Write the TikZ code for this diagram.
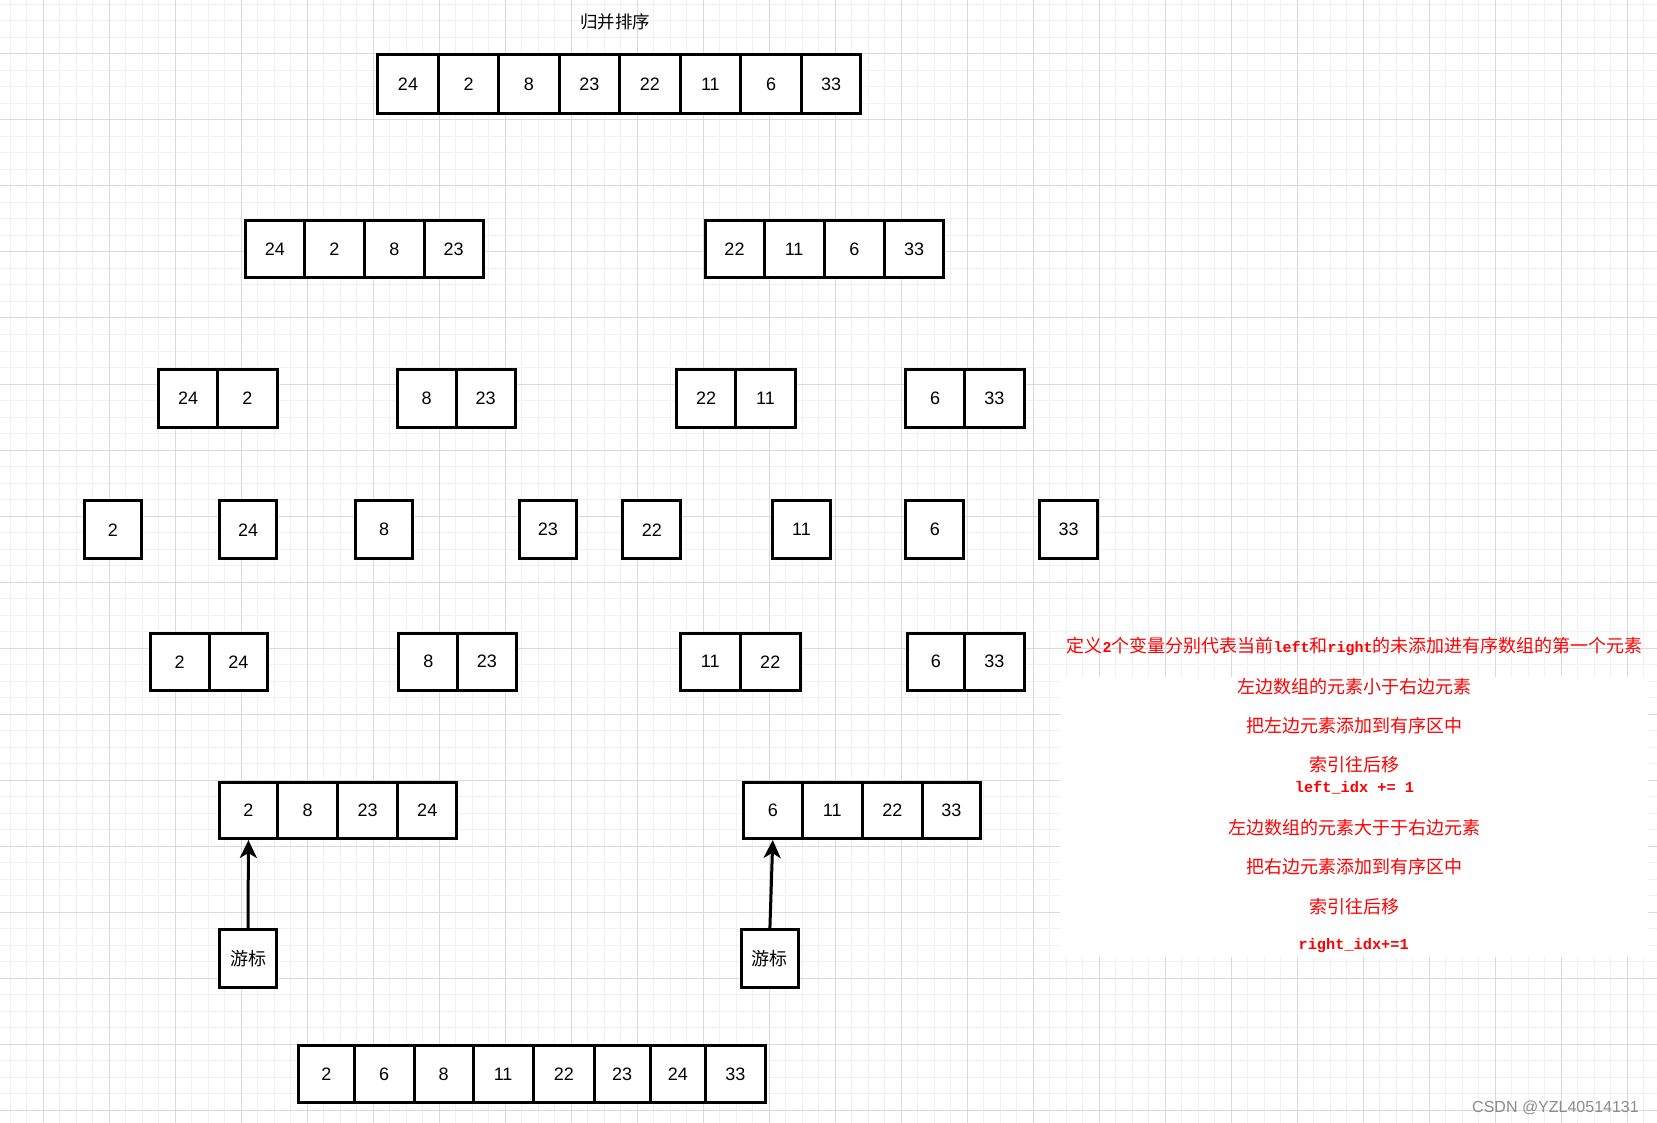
\documentclass[tikz,border=0pt]{standalone}
\usepackage{fontspec}
\setmainfont{Liberation Sans}
\newfontfamily\cjk{Noto Sans CJK SC}
\newfontfamily\monof{Liberation Mono}
\usetikzlibrary{arrows.meta}
\definecolor{majorgrid}{RGB}{218,218,218}
\definecolor{minorgrid}{RGB}{241,241,241}
\definecolor{wmgray}{RGB}{140,140,140}
\tikzset{
  cell/.style={draw=black, line width=3pt, fill=white, inner sep=0pt, font=\fontsize{18}{20}\selectfont},
  mgrid/.style={draw=majorgrid, line width=1pt},
  ngrid/.style={draw=minorgrid, line width=1pt},
  note/.style={text=red, inner sep=0pt, font=\cjk\fontsize{18}{20}\selectfont},
  notecode/.style={text=red, inner sep=0pt, font=\monof\bfseries\fontsize{15.3}{17}\selectfont},
  ptr/.style={line width=3pt, -{Stealth[length=18pt,width=17pt,inset=5pt]}},
}
\newcommand\cellbox[6]{\node[cell, minimum width={#3-#2}, minimum height={#5-#4}] (#1) at ({(#2+#3)/2},{(#4+#5)/2}) {#6};}
\newcommand\lat[1]{{\monof\bfseries\fontsize{15}{17}\selectfont #1}}
\begin{document}
\begin{tikzpicture}[x=1pt,y=-1pt]
\useasboundingbox (0,0) rectangle (1657,1123);
\fill[white] (0,0) rectangle (1657,1123);
% ---- grid: minor lines ----
\foreach \i in {-4,...,65} \draw[ngrid] (0,{54+16.5*\i}) -- (1657,{54+16.5*\i});
\foreach \i in {-3,...,98} \draw[ngrid] ({43+16.5*\i},0) -- ({43+16.5*\i},1123);
% ---- grid: major lines ----
\foreach \i in {-1,...,16} \draw[mgrid] (0,{54+66*\i}) -- (1657,{54+66*\i});
\foreach \i in {-1,...,24} \draw[mgrid] ({43+66*\i},0) -- ({43+66*\i},1123);
% white patch behind the notes
\fill[white] (1060,677) rectangle (1648,957);

% ---- title ----
\node[inner sep=0pt, font=\cjk\fontsize{17.5}{20}\selectfont] (title) at (615,21.7) {归并排序};

% ---- row 1 ----
\cellbox{t1}{377.3}{438.7}{55}{114}{24}
\cellbox{t2}{438.7}{498.7}{55}{114}{2}
\cellbox{t3}{498.7}{559}{55}{114}{8}
\cellbox{t4}{559}{619.7}{55}{114}{23}
\cellbox{t5}{619.7}{680}{55}{114}{22}
\cellbox{t6}{680}{740.7}{55}{114}{11}
\cellbox{t7}{740.7}{801.3}{55}{114}{6}
\cellbox{t8}{801.3}{860.8}{55}{114}{33}

% ---- row 2 ----
\cellbox{a1}{245.5}{304.3}{220.5}{278}{24}
\cellbox{a2}{304.3}{364.3}{220.5}{278}{2}
\cellbox{a3}{364.3}{424.3}{220.5}{278}{8}
\cellbox{a4}{424.3}{483}{220.5}{278}{23}
\cellbox{b1}{705}{764}{220.5}{278}{22}
\cellbox{b2}{764}{824.3}{220.5}{278}{11}
\cellbox{b3}{824.3}{884.5}{220.5}{278}{6}
\cellbox{b4}{884.5}{943.5}{220.5}{278}{33}

% ---- row 3 ----
\cellbox{c1}{158.8}{217.7}{369}{427}{24}
\cellbox{c2}{217.7}{277}{369}{427}{2}
\cellbox{d1}{397.5}{456}{369}{427}{8}
\cellbox{d2}{456}{515.2}{369}{427}{23}
\cellbox{e1}{676.5}{735.7}{369}{427}{22}
\cellbox{e2}{735.7}{795.2}{369}{427}{11}
\cellbox{f1}{905.8}{964.3}{369}{427}{6}
\cellbox{f2}{964.3}{1024.2}{369}{427}{33}

% ---- row 4 ----
\cellbox{s1}{84.2}{141.8}{500.8}{558.8}{2}
\cellbox{s2}{219.5}{276.8}{500.8}{558.8}{24}
\cellbox{s3}{355.5}{412.8}{500.8}{558.8}{8}
\cellbox{s4}{519.3}{576.5}{500.8}{558.8}{23}
\cellbox{s5}{622.9}{680.8}{500.8}{558.8}{22}
\cellbox{s6}{772.2}{830.8}{500.8}{558.8}{11}
\cellbox{s7}{905.8}{963.8}{500.8}{558.8}{6}
\cellbox{s8}{1039.2}{1097.8}{500.8}{558.8}{33}

% ---- row 5 ----
\cellbox{g1}{150.5}{209}{633}{690.5}{2}
\cellbox{g2}{209}{267.8}{633}{690.5}{24}
\cellbox{h1}{398.9}{457.6}{633}{690.5}{8}
\cellbox{h2}{457.6}{516.3}{633}{690.5}{23}
\cellbox{i1}{680.5}{740}{633}{690.5}{11}
\cellbox{i2}{740}{800.5}{633}{690.5}{22}
\cellbox{j1}{907.2}{964.3}{633}{690.5}{6}
\cellbox{j2}{964.3}{1024.2}{633}{690.5}{33}

% ---- row 6 ----
\cellbox{k1}{219.2}{277.7}{782.2}{838.5}{2}
\cellbox{k2}{277.7}{337.7}{782.2}{838.5}{8}
\cellbox{k3}{337.7}{397.7}{782.2}{838.5}{23}
\cellbox{k4}{397.7}{456.8}{782.2}{838.5}{24}
\cellbox{m1}{743.4}{802.1}{782.2}{838.5}{6}
\cellbox{m2}{802.1}{862.3}{782.2}{838.5}{11}
\cellbox{m3}{862.3}{922.5}{782.2}{838.5}{22}
\cellbox{m4}{922.5}{980.3}{782.2}{838.5}{33}

% ---- cursors ----
\cellbox{curL}{219.2}{276.8}{929.8}{987.8}{\cjk 游标}
\cellbox{curR}{741.3}{798.5}{929.8}{987.8}{\cjk 游标}
\draw[ptr] (curL.north) -- (k1.south);
\draw[ptr] (curR.north) -- (m1.south);

% ---- final row ----
\cellbox{z1}{298.8}{354}{1045.5}{1102.8}{2}
\cellbox{z2}{354}{414.3}{1045.5}{1102.8}{6}
\cellbox{z3}{414.3}{473}{1045.5}{1102.8}{8}
\cellbox{z4}{473}{533.3}{1045.5}{1102.8}{11}
\cellbox{z5}{533.3}{594.3}{1045.5}{1102.8}{22}
\cellbox{z6}{594.3}{650}{1045.5}{1102.8}{23}
\cellbox{z7}{650}{705.7}{1045.5}{1102.8}{24}
\cellbox{z8}{705.7}{765.2}{1045.5}{1102.8}{33}

% ---- notes ----
\node[note] (n1) at (1354.5,646.8) {定义\lat{2}个变量分别代表当前\lat{left}和\lat{right}的未添加进有序数组的第一个元素};
\node[note] (n2) at (1354.5,686.9) {左边数组的元素小于右边元素};
\node[note] (n3) at (1354.5,726) {把左边元素添加到有序区中};
\node[note] (n4) at (1354.5,765.1) {索引往后移};
\node[notecode] (n5) at (1354.5,787.3) {left\_idx += 1};
\node[note] (n6) at (1354.5,827.5) {左边数组的元素大于于右边元素};
\node[note] (n7) at (1354.5,866.6) {把右边元素添加到有序区中};
\node[note] (n8) at (1354.5,906.7) {索引往后移};
\node[notecode] (n9) at (1353.7,945.9) {right\_idx+=1};

% ---- watermark ----
\node[text=wmgray, inner sep=0pt, font=\fontsize{16}{18}\selectfont] (wm) at (1555.5,1107.7) {CSDN @YZL40514131};
\end{tikzpicture}
\end{document}
